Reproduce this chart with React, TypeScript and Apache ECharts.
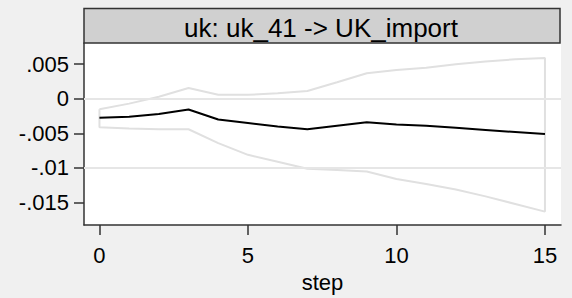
import React, { useEffect, useRef } from "react";
import * as echarts from "echarts";

const steps = [0, 1, 2, 3, 4, 5, 6, 7, 8, 9, 10, 11, 12, 13, 14, 15];
const irf = [-0.00274, -0.0026, -0.0022, -0.00155, -0.003, -0.0035, -0.004, -0.0044, -0.0039, -0.0034, -0.0037, -0.0039, -0.0042, -0.0045, -0.0048, -0.0051];
const upper = [-0.0015, -0.0007, 0.0003, 0.00155, 0.00057, 0.00057, 0.0008, 0.00113, 0.0024, 0.0037, 0.00415, 0.0045, 0.005, 0.0054, 0.0057, 0.0059];
const lower = [-0.0041, -0.0043, -0.0044, -0.0044, -0.0064, -0.0081, -0.0091, -0.0101, -0.0103, -0.0105, -0.0116, -0.0123, -0.0131, -0.0141, -0.0152, -0.0163];
const yTicks = [-0.015, -0.01, -0.005, 0, 0.005];
const yTickLabels = ["-.015", "-.01", "-.005", "0", ".005"];
const xTicks = [0, 5, 10, 15];
const panelTitle = "uk: uk_41 -> UK_import";
const xTitle = "step";

const FONT = "'Liberation Sans', Arial, Helvetica, sans-serif";

export default function App() {
  const ref = useRef<HTMLDivElement>(null);
  useEffect(() => {
    if (!ref.current) return;
    const chart = echarts.init(ref.current, null, { renderer: "svg" });
    const band: [number, number][] = [];
    steps.forEach((s, i) => band.push([s, upper[i]]));
    for (let i = steps.length - 1; i >= 0; i--) band.push([steps[i], lower[i]]);
    band.push([steps[0], upper[0]]);

    chart.setOption({
      animation: false,
      backgroundColor: "#f0f0f0",
      grid: { left: 84, right: 11, top: 43, bottom: 69, show: true, backgroundColor: "#ffffff", borderWidth: 0 },
      xAxis: {
        type: "value",
        min: -0.52,
        max: 15.54,
        name: xTitle,
        nameLocation: "middle",
        nameGap: 44,
        nameTextStyle: { fontSize: 22, fontFamily: FONT, color: "#000" },
        axisLine: { show: true, onZero: false, lineStyle: { color: "#333", width: 1.5 } },
        axisTick: { show: true, length: 10, customValues: xTicks, lineStyle: { color: "#333", width: 1.5 } },
        axisLabel: { customValues: xTicks, margin: 19, fontSize: 22, fontFamily: FONT, color: "#000" },
        splitLine: { show: false },
      },
      yAxis: {
        type: "value",
        min: -0.01825,
        max: 0.00806,
        axisLine: { show: true, onZero: false, lineStyle: { color: "#333", width: 1.5 } },
        axisTick: { show: true, length: 10, customValues: yTicks, lineStyle: { color: "#333", width: 1.5 } },
        axisLabel: {
          customValues: yTicks,
          margin: 15,
          fontSize: 22,
          fontFamily: FONT,
          color: "#000",
          formatter: (v: number) => {
            const idx = yTicks.findIndex((t) => Math.abs(t - v) < 1e-9);
            return idx >= 0 ? yTickLabels[idx] : "";
          },
        },
        splitLine: { show: false },
      },
      series: [
        {
          type: "line",
          data: [],
          z: 1,
          silent: true,
          markLine: {
            silent: true,
            symbol: "none",
            label: { show: false },
            lineStyle: { color: "#e6e6e6", width: 2, type: "solid" },
            data: yTicks.map((t) => ({ yAxis: t })),
          },
        },
        {
          type: "line",
          data: band,
          z: 2,
          symbol: "none",
          silent: true,
          clip: false,
          lineStyle: { color: "#e0e0e0", width: 2 },
        },
        {
          type: "line",
          data: steps.map((s, i) => [s, irf[i]]),
          z: 3,
          symbol: "none",
          silent: true,
          lineStyle: { color: "#000", width: 2 },
        },
      ],
      graphic: [
        {
          type: "rect",
          shape: { x: 84, y: 8.5, width: 476, height: 34.5 },
          style: { fill: "#d0d0d0", stroke: "#333", lineWidth: 1.5 },
          z: 10,
        },
        {
          type: "text",
          x: 321,
          y: 27.5,
          style: {
            text: panelTitle,
            fontSize: 26,
            fontFamily: FONT,
            fill: "#000",
            align: "center",
            verticalAlign: "middle",
          },
          z: 11,
        },
      ],
    });
    return () => chart.dispose();
  }, []);
  return <div ref={ref} style={{ position: "fixed", left: 0, top: 0, width: 572, height: 298 }} />;
}
